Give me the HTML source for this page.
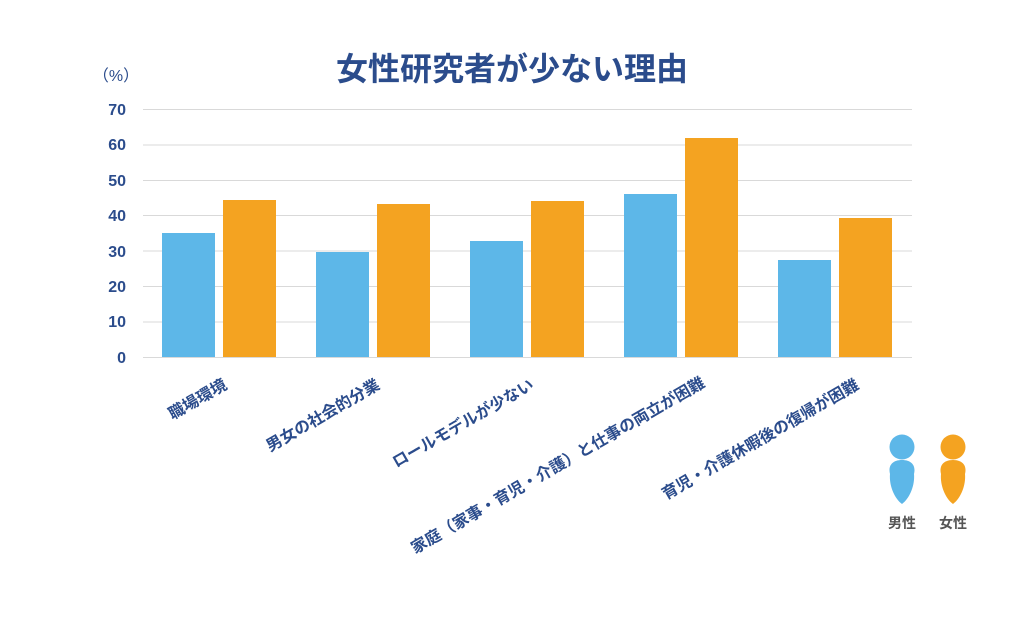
<!DOCTYPE html>
<html><head><meta charset="utf-8"><style>
body{margin:0;background:#fff}
svg text{font-family:"Liberation Sans","Noto Sans CJK JP",sans-serif}
</style></head><body>
<svg width="1024" height="616" viewBox="0 0 1024 616" xmlns="http://www.w3.org/2000/svg">
<rect width="1024" height="616" fill="#fff"/>
<text x="512" y="80" text-anchor="middle" font-size="32" font-weight="bold" fill="#2b4c8c">女性研究者が少ない理由</text>
<text x="116" y="81" text-anchor="middle" font-size="16" fill="#2b4c8c">（%）</text>
<g stroke="#d9d9d9" stroke-width="1">
<line x1="143" x2="912" y1="109.5" y2="109.5"/>
<line x1="143" x2="912" y1="145" y2="145"/>
<line x1="143" x2="912" y1="180.5" y2="180.5"/>
<line x1="143" x2="912" y1="215.5" y2="215.5"/>
<line x1="143" x2="912" y1="251" y2="251"/>
<line x1="143" x2="912" y1="286.5" y2="286.5"/>
<line x1="143" x2="912" y1="322" y2="322"/>
<line x1="143" x2="912" y1="357.5" y2="357.5"/>
</g>
<g font-size="16" font-weight="bold" fill="#2b4c8c" text-anchor="end">
<text x="126" y="115">70</text><text x="126" y="150">60</text><text x="126" y="186">50</text>
<text x="126" y="221">40</text><text x="126" y="257">30</text><text x="126" y="292">20</text>
<text x="126" y="327">10</text><text x="126" y="363">0</text>
</g>
<g fill="#5db7e8">
<rect x="162" y="233" width="53" height="124"/>
<rect x="316" y="252" width="53" height="105"/>
<rect x="470" y="241" width="53" height="116"/>
<rect x="624" y="194" width="53" height="163"/>
<rect x="778" y="260" width="53" height="97"/>
</g>
<g fill="#f4a321">
<rect x="223" y="200" width="53" height="157"/>
<rect x="377" y="204" width="53" height="153"/>
<rect x="531" y="201" width="53" height="156"/>
<rect x="685" y="138" width="53" height="219"/>
<rect x="839" y="218" width="53" height="139"/>
</g>
<g font-size="16" font-weight="bold" fill="#2b4c8c" text-anchor="end">
<text transform="translate(228,388) rotate(-30)">職場環境</text>
<text transform="translate(381,388) rotate(-30)">男女の社会的分業</text>
<text transform="translate(535,388) rotate(-30)">ロールモデルが少ない</text>
<text transform="translate(706,386) rotate(-30)">家庭（家事・育児・介護）と仕事の両立が困難</text>
<text transform="translate(860,388) rotate(-30)">育児・介護休暇後の復帰が困難</text>
</g>
<circle cx="902" cy="447" r="12.5" fill="#5db7e8"/>
<path d="M902 460 C 892 460 888 466 890 474 C 889 485 894 498 902 504 C 910 498 915 485 914 474 C 916 466 912 460 902 460 Z" fill="#5db7e8"/>
<circle cx="953" cy="447" r="12.5" fill="#f4a321"/>
<path d="M953 460 C 943 460 939 466 941 474 C 940 485 945 498 953 504 C 961 498 966 485 965 474 C 967 466 963 460 953 460 Z" fill="#f4a321"/>
<text x="902" y="528" text-anchor="middle" font-size="14" font-weight="bold" fill="#555">男性</text>
<text x="953" y="528" text-anchor="middle" font-size="14" font-weight="bold" fill="#555">女性</text>
</svg>
</body></html>
